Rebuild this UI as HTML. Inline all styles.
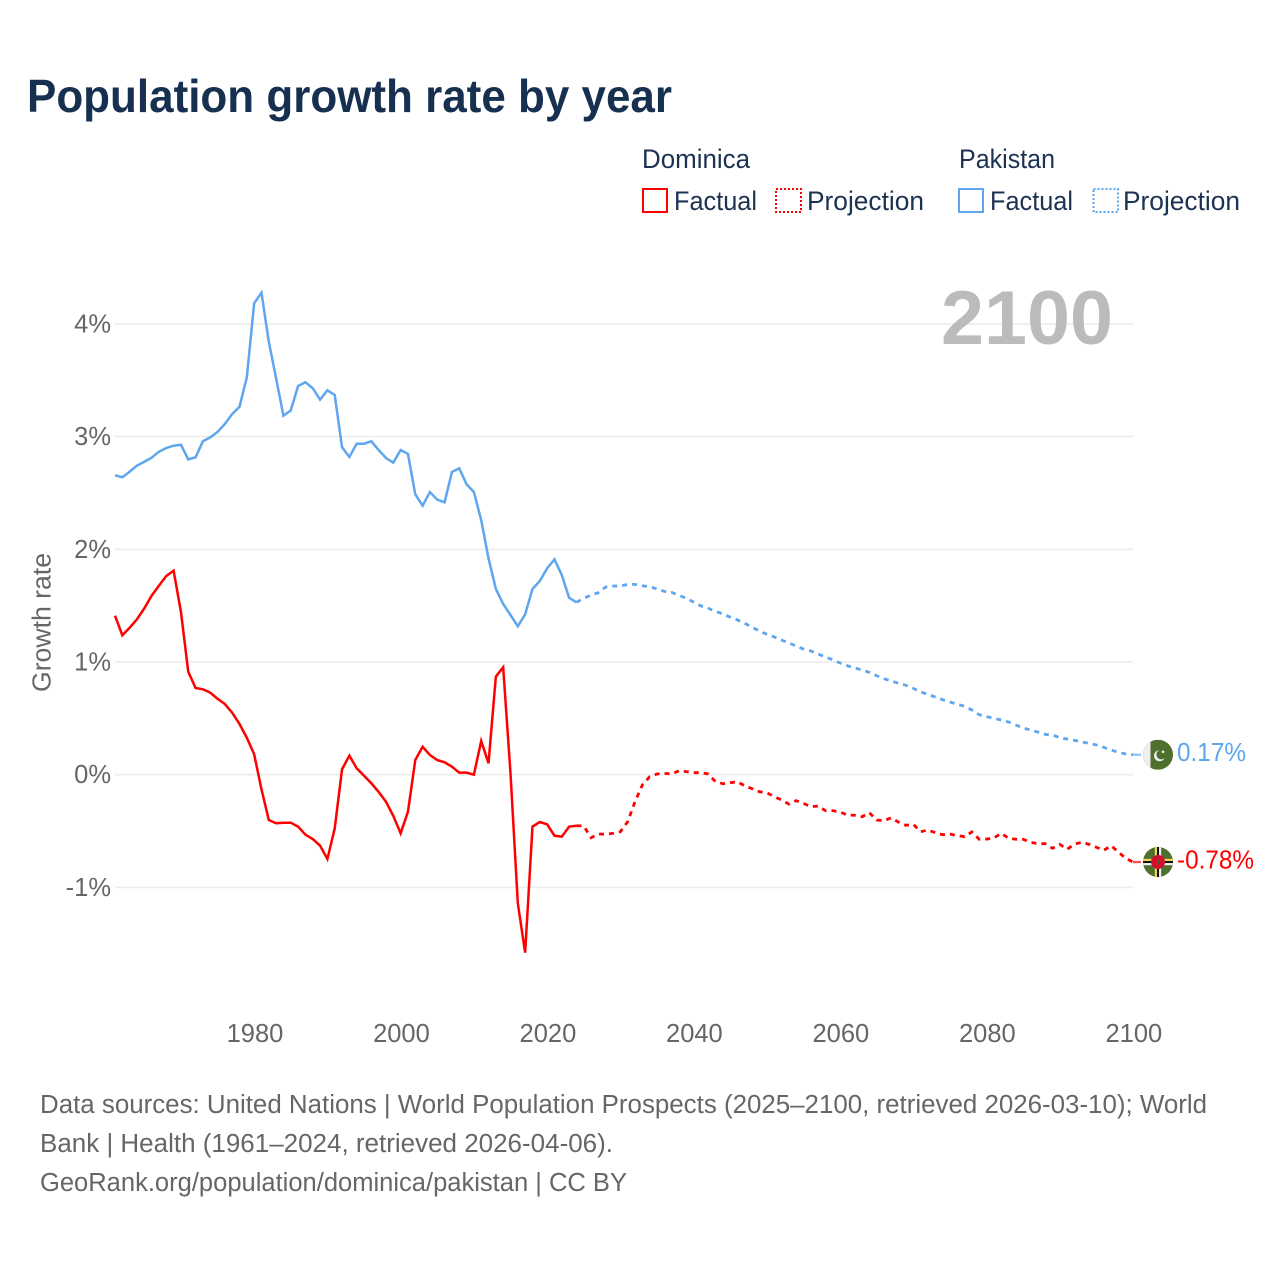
<!DOCTYPE html>
<html lang="en">
<head>
<meta charset="utf-8">
<title>Population growth rate by year</title>
<style>
html,body{margin:0;padding:0;background:#fff;width:1280px;height:1280px;overflow:hidden}
svg{display:block}
text{font-family:"Liberation Sans",sans-serif}
.tick{font-size:25.5px;fill:#666}
.leg{font-size:26.5px;fill:#1c3252}
.foot{font-size:25.5px;fill:#666}
</style>
</head>
<body>
<svg id="chart" width="1280" height="1280" viewBox="0 0 1280 1280" xmlns="http://www.w3.org/2000/svg">
  <rect width="1280" height="1280" fill="#fff"/>
  <text x="27" y="112" font-size="46" font-weight="700" fill="#17304f" textLength="645" lengthAdjust="spacingAndGlyphs">Population growth rate by year</text>

  <g>
    <text class="leg" x="642" y="168" textLength="108" lengthAdjust="spacingAndGlyphs">Dominica</text>
    <text class="leg" x="959" y="168" textLength="96" lengthAdjust="spacingAndGlyphs">Pakistan</text>
    <g>
      <rect x="643" y="189" width="24" height="23" fill="none" stroke="#ff0000" stroke-width="2"/>
      <text class="leg" x="674" y="210" textLength="83" lengthAdjust="spacingAndGlyphs">Factual</text>
    </g>
    <g>
      <rect x="776" y="189" width="25" height="23" fill="none" stroke="#ff0000" stroke-width="2" stroke-dasharray="2 2"/>
      <text class="leg" x="807" y="210" textLength="117" lengthAdjust="spacingAndGlyphs">Projection</text>
    </g>
    <g>
      <rect x="959" y="189" width="24" height="23" fill="none" stroke="#5ea6ee" stroke-width="2"/>
      <text class="leg" x="990" y="210" textLength="83" lengthAdjust="spacingAndGlyphs">Factual</text>
    </g>
    <g>
      <rect x="1093.500" y="189" width="24.500" height="23" fill="none" stroke="#5ea6ee" stroke-width="2" stroke-dasharray="2 2"/>
      <text class="leg" x="1123" y="210" textLength="117" lengthAdjust="spacingAndGlyphs">Projection</text>
    </g>
  </g>

  <g id="grid"></g>
  <g id="yticks"></g>
  <g id="xticks"></g>
  <text class="tick" transform="translate(50.500,692) rotate(-90)" textLength="139" lengthAdjust="spacingAndGlyphs">Growth rate</text>
  <text x="941" y="344" font-size="76" font-weight="700" fill="#bbbbbb" textLength="172" lengthAdjust="spacingAndGlyphs">2100</text>

  <g id="series"></g>

  <defs>
    <clipPath id="flag-clip-pk"><circle cx="0" cy="0" r="15"/></clipPath>
    <clipPath id="flag-clip-dm"><circle cx="0" cy="0" r="15"/></clipPath>
  </defs>
  <g id="flag-pakistan">
    <g clip-path="url(#flag-clip-pk)">
      <rect x="-15" y="-15" width="30" height="30" fill="#4f6f2f"/>
      <rect x="-15" y="-15" width="7.500" height="30" fill="#eeeeee"/>
      <circle cx="1.500" cy="1" r="5.500" fill="#eeeeee"/>
      <circle cx="3.200" cy="-0.200" r="4.800" fill="#4f6f2f"/>
      <circle cx="5" cy="-3" r="1.300" fill="#eeeeee"/>
    </g>
  </g>
  <g id="flag-dominica">
    <g clip-path="url(#flag-clip-dm)">
      <rect x="-15" y="-15" width="30" height="30" fill="#4f6f2f"/>
      <rect x="-15" y="-3.200" width="30" height="2.200" fill="#f2d64b"/>
      <rect x="-15" y="-1" width="30" height="2" fill="#111111"/>
      <rect x="-15" y="1" width="30" height="2.200" fill="#eeeeee"/>
      <rect x="-3.200" y="-15" width="2.200" height="30" fill="#f2d64b"/>
      <rect x="-1" y="-15" width="2" height="30" fill="#111111"/>
      <rect x="1" y="-15" width="2.200" height="30" fill="#eeeeee"/>
      <circle cx="0" cy="0" r="7" fill="#d2102c"/>
      <rect x="-0.800" y="-2.500" width="1.600" height="5" fill="#3f6b2a"/>
    </g>
  </g>
  <text id="label-pakistan" x="1177" font-size="25.500" fill="#5ea6ee" textLength="69" lengthAdjust="spacingAndGlyphs"></text>
  <text id="label-dominica" x="1177" font-size="25.500" fill="#ff0000" textLength="77" lengthAdjust="spacingAndGlyphs"></text>

  <g>
    <text class="foot" x="40" y="1113" textLength="1167" lengthAdjust="spacingAndGlyphs">Data sources: United Nations | World Population Prospects (2025–2100, retrieved 2026-03-10); World</text>
    <text class="foot" x="40" y="1152" textLength="573" lengthAdjust="spacingAndGlyphs">Bank | Health (1961–2024, retrieved 2026-04-06).</text>
    <text class="foot" x="40" y="1191" textLength="587" lengthAdjust="spacingAndGlyphs">GeoRank.org/population/dominica/pakistan | CC BY</text>
  </g>
</svg>
<script>
const factualStartYear = 1961;
const projectionStartYear = 2024;
const yTickValues = [4, 3, 2, 1, 0, -1];
const yTickLabels = ['4%', '3%', '2%', '1%', '0%', '-1%'];
const xTickValues = [1980, 2000, 2020, 2040, 2060, 2080, 2100];
const endLabelPakistan = '0.17%';
const endLabelDominica = '-0.78%';

const pakistanFactual = [2.657,2.639,2.689,2.742,2.777,2.813,2.866,2.899,2.919,2.928,
  2.798,2.816,2.958,2.993,3.041,3.112,3.2,3.265,3.526,4.183,
  4.277,3.842,3.517,3.185,3.233,3.449,3.482,3.429,3.328,3.411,
  3.369,2.905,2.819,2.937,2.937,2.958,2.881,2.81,2.769,2.881,
  2.846,2.488,2.387,2.508,2.44,2.417,2.686,2.719,2.577,2.508,
  2.26,1.92,1.648,1.515,1.417,1.317,1.423,1.648,1.719,1.831,
  1.911,1.772,1.571,1.529];

const pakistanProjection = [1.529,1.565,1.594,1.615,1.666,1.674,1.674,1.689,1.689,1.677,
  1.668,1.648,1.627,1.618,1.592,1.565,1.532,1.497,1.476,1.45,
  1.426,1.399,1.373,1.343,1.308,1.275,1.246,1.222,1.195,1.169,
  1.142,1.115,1.098,1.071,1.044,1.02,0.991,0.967,0.947,0.929,
  0.908,0.878,0.852,0.831,0.811,0.793,0.766,0.734,0.713,0.689,
  0.665,0.645,0.625,0.607,0.574,0.532,0.515,0.5,0.485,0.468,
  0.441,0.414,0.397,0.379,0.358,0.352,0.328,0.317,0.305,0.29,
  0.279,0.264,0.243,0.219,0.199,0.184,0.177];

const dominicaFactual = [1.411,1.237,1.304,1.379,1.476,1.588,1.677,1.763,1.81,1.446,
  0.914,0.769,0.758,0.728,0.674,0.627,0.55,0.45,0.328,0.181,
  -0.13,-0.402,-0.431,-0.426,-0.426,-0.461,-0.532,-0.571,-0.63,-0.748,
  -0.476,0.048,0.169,0.057,-0.009,-0.076,-0.153,-0.24,-0.366,-0.52,
  -0.328,0.13,0.248,0.175,0.13,0.11,0.071,0.018,0.018,0,
  0.299,0.101,0.87,0.953,0.012,-1.141,-1.579,-0.461,-0.42,-0.44,
  -0.541,-0.55,-0.461,-0.453];

const dominicaProjection = [-0.453,-0.455,-0.559,-0.526,-0.529,-0.52,-0.506,-0.417,-0.24,-0.091,
  -0.018,0.006,0.012,0.006,0.035,0.027,0.018,0.018,0.006,-0.062,
  -0.08,-0.071,-0.062,-0.1,-0.124,-0.151,-0.16,-0.195,-0.224,-0.26,
  -0.23,-0.254,-0.284,-0.278,-0.319,-0.319,-0.331,-0.358,-0.36,-0.373,
  -0.337,-0.402,-0.408,-0.382,-0.422,-0.449,-0.44,-0.506,-0.491,-0.515,
  -0.532,-0.526,-0.541,-0.55,-0.508,-0.573,-0.571,-0.562,-0.52,-0.564,
  -0.573,-0.573,-0.6,-0.612,-0.612,-0.653,-0.618,-0.662,-0.615,-0.6,
  -0.618,-0.644,-0.671,-0.63,-0.686,-0.742,-0.775];

const SVGNS = 'http://www.w3.org/2000/svg';
const xScale = function (year) { return 115 + (year - 1961) * 7.324; };
const yScale = function (v) { return 774.7 - v * 112.7; };

const gridGroup = document.getElementById('grid');
const yTickGroup = document.getElementById('yticks');
const xTickGroup = document.getElementById('xticks');
const seriesGroup = document.getElementById('series');

yTickValues.forEach(function (v, i) {
  const line = document.createElementNS(SVGNS, 'line');
  
  
  line.setAttribute('x1', xScale(1961));
  line.setAttribute('x2', xScale(2100));
  line.setAttribute('y1', yScale(v));
  line.setAttribute('y2', yScale(v));
  line.setAttribute('stroke', '#ececec');
  line.setAttribute('stroke-width', '1.6');
  gridGroup.appendChild(line);

  const label = document.createElementNS(SVGNS, 'text');
  
  
  label.setAttribute('class', 'tick');
  label.setAttribute('x', 111);
  label.setAttribute('y', yScale(v) + 8.5);
  label.setAttribute('text-anchor', 'end');
  label.textContent = yTickLabels[i];
  yTickGroup.appendChild(label);
});

xTickValues.forEach(function (year) {
  const label = document.createElementNS(SVGNS, 'text');
  
  
  label.setAttribute('class', 'tick');
  label.setAttribute('x', xScale(year) + 0.8);
  label.setAttribute('y', 1042);
  label.setAttribute('text-anchor', 'middle');
  label.textContent = String(year);
  xTickGroup.appendChild(label);
});

function pointsFor(values, startYear) {
  return values.map(function (v, i) {
    return xScale(startYear + i).toFixed(2) + ',' + yScale(v).toFixed(2);
  }).join(' ');
}

function addLine(name, values, startYear, color, dashed) {
  const line = document.createElementNS(SVGNS, 'polyline');
  
  
  line.setAttribute('points', pointsFor(values, startYear));
  line.setAttribute('fill', 'none');
  line.setAttribute('stroke', color);
  line.setAttribute('stroke-width', dashed ? '2.8' : '2.5');
  line.setAttribute('stroke-linejoin', 'miter');
  if (dashed) line.setAttribute('stroke-dasharray', '5 5');
  seriesGroup.appendChild(line);
}

addLine('pakistan-factual-line', pakistanFactual, factualStartYear, '#5ea6ee', false);
addLine('pakistan-projection-line', pakistanProjection, projectionStartYear, '#5ea6ee', true);
addLine('dominica-factual-line', dominicaFactual, factualStartYear, '#ff0000', false);
addLine('dominica-projection-line', dominicaProjection, projectionStartYear, '#ff0000', true);

function placeEnd(values, color, flagId, labelId, labelText, connectorName) {
  const last = values[values.length - 1];
  const endY = yScale(last);
  const endX = xScale(2100);
  const connector = document.createElementNS(SVGNS, 'line');
  
  
  connector.setAttribute('x1', endX);
  connector.setAttribute('x2', endX + 8);
  connector.setAttribute('y1', endY);
  connector.setAttribute('y2', endY);
  connector.setAttribute('stroke', color);
  connector.setAttribute('stroke-width', '2.2');
  connector.setAttribute('opacity', '0.7');
  seriesGroup.appendChild(connector);
  document.getElementById(flagId).setAttribute('transform', 'translate(1158,' + endY.toFixed(2) + ')');
  const label = document.getElementById(labelId);
  label.setAttribute('y', (endY + 6.3).toFixed(2));
  label.textContent = labelText;
}

placeEnd(pakistanProjection, '#5ea6ee', 'flag-pakistan', 'label-pakistan', endLabelPakistan, 'pakistan-flag-connector');
placeEnd(dominicaProjection, '#ff0000', 'flag-dominica', 'label-dominica', endLabelDominica, 'dominica-flag-connector');
</script>
</body>
</html>
